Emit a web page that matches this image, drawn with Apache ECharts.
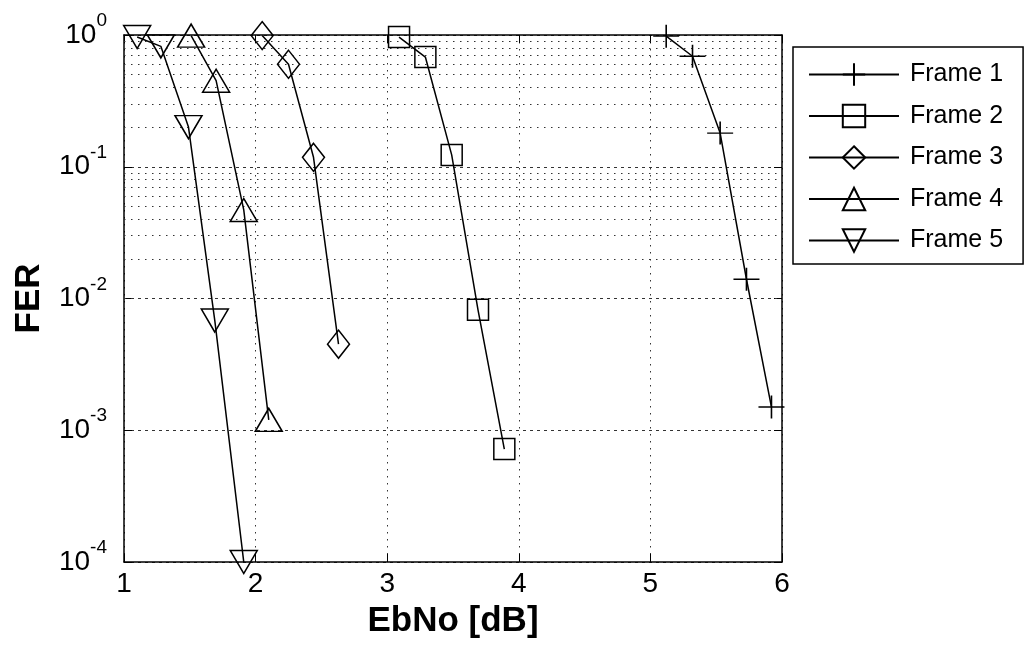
<!DOCTYPE html>
<html><head><meta charset="utf-8">
<script src="https://cdn.jsdelivr.net/npm/echarts@6/dist/echarts.min.js"></script>
<style>html,body{margin:0;padding:0;background:#fff}#c{width:1025px;height:651px}</style>
</head><body><div id="c"></div>
<script>
const xTicks = [1, 2, 3, 4, 5, 6];
const yTickLabels = ['10^-4', '10^-3', '10^-2', '10^-1', '10^0'];
const seriesNames = ['Frame 1', 'Frame 2', 'Frame 3', 'Frame 4', 'Frame 5'];
const frame1X = [5.12, 5.32, 5.53, 5.73, 5.92];
const frame1Y = [0.98, 0.69, 0.18, 0.014, 0.0015];
const frame2X = [3.09, 3.29, 3.49, 3.69, 3.89];
const frame2Y = [0.965, 0.68, 0.123, 0.0082, 0.00072];
const frame3X = [2.05, 2.25, 2.44, 2.63];
const frame3Y = [0.99, 0.6, 0.118, 0.0045];
const frame4X = [1.51, 1.70, 1.91, 2.10];
const frame4Y = [0.99, 0.45, 0.047, 0.0012];
const frame5X = [1.1, 1.28, 1.49, 1.69, 1.91];
const frame5Y = [0.965, 0.82, 0.2, 0.0068, 0.0001];
const decades = [1e-4, 1e-3, 1e-2, 1e-1];
const minorMultipliers = [2, 3, 4, 5, 6, 7, 8, 9];

const FONT = "'Liberation Sans', Arial, sans-serif";
const minorValues = [];
decades.forEach(d => minorMultipliers.forEach(m => minorValues.push(d * m)));

function pairs(xs, ys) { return xs.map((x, i) => [x, ys[i]]); }

const styles = [
  { symbol: 'path://M0,10H20M10,0V20', size: [26, 23], rotate: 0 },
  { symbol: 'rect', size: [21, 21], rotate: 0 },
  { symbol: 'diamond', size: [22, 28], rotate: 0 },
  { symbol: 'triangle', size: [27, 23], rotate: 0 },
  { symbol: 'triangle', size: [27, 23], rotate: 180 }
];
const allX = [frame1X, frame2X, frame3X, frame4X, frame5X];
const allY = [frame1Y, frame2Y, frame3Y, frame4Y, frame5Y];

const dataSeries = seriesNames.map((name, i) => ({
  name, type: 'line', xAxisIndex: 0, yAxisIndex: 0,
  data: pairs(allX[i], allY[i]),
  symbol: styles[i].symbol, symbolSize: styles[i].size, symbolRotate: styles[i].rotate,
  showAllSymbol: true, clip: false, z: 5,
  lineStyle: { color: '#000', width: 1.5 },
  itemStyle: { color: 'rgba(255,255,255,0)', borderColor: '#000', borderWidth: 1.5 },
  emphasis: { disabled: true }, animation: false
}));

const gridSeries = {
  name: 'minorgrid', type: 'line', data: [], xAxisIndex: 0, yAxisIndex: 0, z: 1, silent: true,
  markLine: {
    silent: true, symbol: 'none', animation: false, label: { show: false },
    lineStyle: { color: '#333', width: 1, type: [1.5, 5.5] },
    data: minorValues.map(v => ({ yAxis: v }))
  }
};

const labelRich = {
  b: { fontSize: 28, fontFamily: FONT, color: '#000', lineHeight: 30 },
  s: { fontSize: 19, fontFamily: FONT, color: '#000', lineHeight: 20, padding: [0, 0, 28, 0] }
};

const axisCommonX = {
  type: 'value', min: 1, max: 6, interval: 1,
  axisLine: { show: true, onZero: false, lineStyle: { color: '#000', width: 1.5 } },
  axisTick: { show: true, inside: true, length: 8, lineStyle: { color: '#000', width: 1 } }
};
const axisCommonY = {
  type: 'log', logBase: 10, min: 1e-4, max: 1,
  axisLine: { show: true, onZero: false, lineStyle: { color: '#000', width: 1.5 } },
  axisTick: { show: true, inside: true, length: 8, lineStyle: { color: '#000', width: 1 } }
};

const option = {
  backgroundColor: '#fff',
  animation: false,
  textStyle: { fontFamily: FONT },
  grid: { left: 124, right: 243, top: 35, bottom: 89, containLabel: false },
  xAxis: [
    Object.assign({}, axisCommonX, {
      position: 'bottom',
      name: 'EbNo [dB]', nameLocation: 'middle', nameGap: 42,
      nameTextStyle: { fontSize: 35, fontWeight: 'bold', color: '#000', fontFamily: FONT },
      axisLabel: { show: true, margin: 8, fontSize: 28, color: '#000', fontFamily: FONT,
        formatter: v => xTicks.indexOf(v) >= 0 ? String(v) : '' },
      splitLine: { show: true, lineStyle: { color: '#333', width: 1, type: [1.5, 5.5] } }
    }),
    Object.assign({}, axisCommonX, { position: 'top', axisLabel: { show: false }, splitLine: { show: false } })
  ],
  yAxis: [
    Object.assign({}, axisCommonY, {
      position: 'left',
      name: 'FER', nameLocation: 'middle', nameGap: 77,
      nameTextStyle: { fontSize: 35, fontWeight: 'bold', color: '#000', fontFamily: FONT },
      axisLabel: { show: true, margin: 17, rich: labelRich,
        formatter: v => {
          const e = Math.round(Math.log10(v));
          const lbl = yTickLabels[e + 4];
          const parts = lbl.split('^');
          return '{b|' + parts[0] + '}{s|' + parts[1] + '}';
        } },
      splitLine: { show: true, lineStyle: { color: '#333', width: 1, type: [3, 4] } }
    }),
    Object.assign({}, axisCommonY, { position: 'right', axisLabel: { show: false }, splitLine: { show: false } })
  ],
  legend: {
    orient: 'vertical', left: 793, top: 47,
    data: seriesNames,
    itemWidth: 90, itemHeight: 28, itemGap: 16.5,
    padding: [15, 20, 11, 15],
    borderColor: '#000', borderWidth: 1.5, backgroundColor: '#fff',
    textStyle: { fontSize: 25, color: '#000', fontFamily: FONT, padding: [0, 0, 0, 6] },
    selectedMode: false
  },
  series: [gridSeries].concat(dataSeries)
};

const chart = echarts.init(document.getElementById('c'), null, { renderer: 'canvas' });
chart.setOption(option);
</script>
</body></html>
